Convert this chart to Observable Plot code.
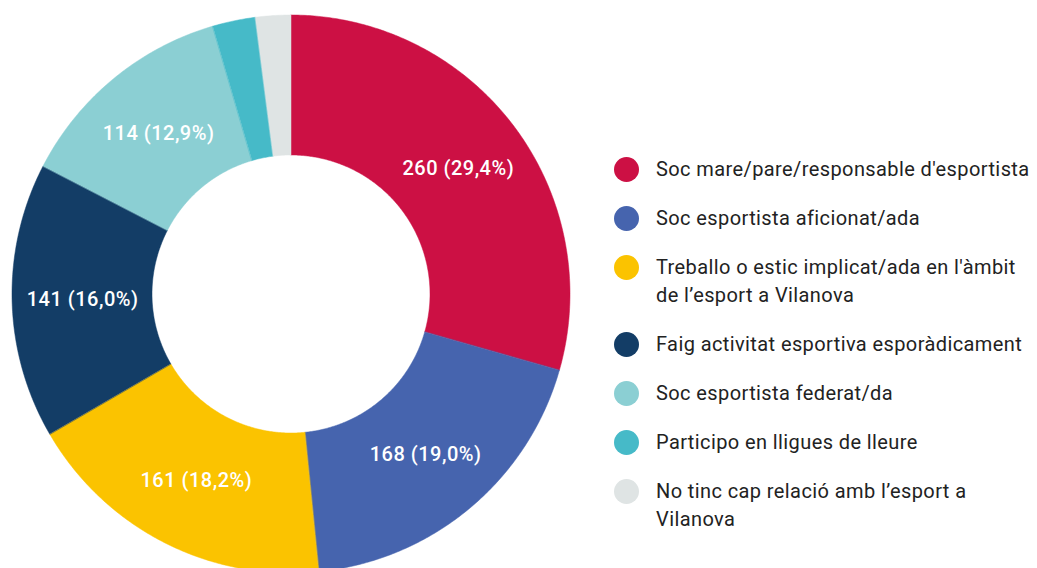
<!DOCTYPE html>
<html>
<head>
<meta charset="utf-8">
<script src="https://cdn.jsdelivr.net/npm/d3@7"></script>
<script src="https://cdn.jsdelivr.net/npm/@observablehq/plot@0.6"></script>
<style>
  html, body { margin: 0; padding: 0; background: #fff; }
  #wrap { position: relative; width: 1037px; height: 568px; overflow: hidden; font-family: Roboto, sans-serif; }
  #chart { position: absolute; left: 0; top: 0; }
  #chart text { letter-spacing: 0.5px; }
  #legend { position: absolute; left: 614px; top: 155px; }
  .row { display: flex; align-items: flex-start; margin-bottom: 21px; }
  .sw { width: 25px; height: 25px; border-radius: 50%; margin-top: 1.5px; flex: none; }
  .lab { margin-left: 17px; font-size: 20px; letter-spacing: 0.4px; line-height: 28px; color: #222; width: 400px; white-space: nowrap; }
</style>
</head>
<body>
<div id="wrap"><div id="chart"></div><div id="legend"></div></div>
<script>
const categories = [
  "Soc mare/pare/responsable d'esportista",
  "Soc esportista aficionat/ada",
  "Treballo o estic implicat/ada en l'àmbit de l’esport a Vilanova",
  "Faig activitat esportiva esporàdicament",
  "Soc esportista federat/da",
  "Participo en lligues de lleure",
  "No tinc cap relació amb l’esport a Vilanova"
];
const legendLines = [
  ["Soc mare/pare/responsable d'esportista"],
  ["Soc esportista aficionat/ada"],
  ["Treballo o estic implicat/ada en l'àmbit", "de l’esport a Vilanova"],
  ["Faig activitat esportiva esporàdicament"],
  ["Soc esportista federat/da"],
  ["Participo en lligues de lleure"],
  ["No tinc cap relació amb l’esport a", "Vilanova"]
];
const counts = [260, 168, 161, 141, 114, 22, 18];
const percentLabels = ["29,4%", "19,0%", "18,2%", "16,0%", "12,9%", null, null];
const colors = ["#cc1044", "#4664ae", "#fbc300", "#133d66", "#8bcfd3", "#46bac8", "#dfe4e4"];

const W = 600, H = 568, CX = 291, CY = 294, R = 279, RI = 139;
const pie = d3.pie().sort(null).value(d => d)(counts);

const ringRows = [];
const labelRows = [];
pie.forEach((p, i) => {
  const n = Math.max(8, Math.ceil((p.endAngle - p.startAngle) * 120));
  for (let k = 0; k <= n; k++) {
    const a = p.startAngle + (p.endAngle - p.startAngle) * k / n;
    ringRows.push({cat: categories[i], x1: RI * Math.sin(a), y1: -RI * Math.cos(a), x2: R * Math.sin(a), y2: -R * Math.cos(a)});
  }
  if (percentLabels[i]) {
    const m = (p.startAngle + p.endAngle) / 2, rm = (R + RI) / 2;
    labelRows.push({x: rm * Math.sin(m), y: -rm * Math.cos(m), text: `${counts[i]} (${percentLabels[i]})`});
  }
});

const chart = Plot.plot({
  width: W, height: H,
  margin: 0,
  x: {domain: [-CX, W - CX], range: [0, W], axis: null},
  y: {domain: [-CY, H - CY], range: [0, H], axis: null},
  color: {domain: categories, range: colors},
  style: {background: "transparent", fontFamily: "Roboto, sans-serif"},
  marks: [
    Plot.area(ringRows, {x1: "x1", y1: "y1", x2: "x2", y2: "y2", z: "cat", fill: "cat", stroke: "cat", strokeWidth: 0.5}),
    Plot.text(labelRows, {x: "x", y: "y", text: "text", fill: "white", fontSize: 20, fontWeight: 500})
  ]
});
document.getElementById("chart").appendChild(chart);

const legend = document.getElementById("legend");
legendLines.forEach((lines, i) => {
  const row = document.createElement("div");
  row.className = "row";
  const sw = document.createElement("div");
  sw.className = "sw";
  sw.style.background = colors[i];
  const lab = document.createElement("div");
  lab.className = "lab";
  lab.innerHTML = lines.join("<br>");
  row.appendChild(sw); row.appendChild(lab);
  legend.appendChild(row);
});
</script>
</body>
</html>
